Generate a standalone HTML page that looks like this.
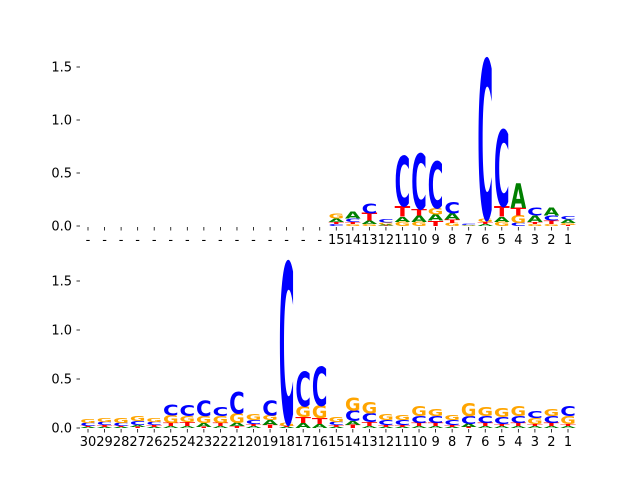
<!DOCTYPE html>
<html><head><meta charset="utf-8"><style>
body{margin:0;background:#fff}
svg{display:block;font-family:"DejaVu Sans","Liberation Sans",sans-serif}
</style></head><body>
<svg id="chart" width="640" height="480" viewBox="0 0 640 480"></svg>
<script>
const letters = ['A','C','G','T'];
const colors = {A:'#008000',C:'#0000ff',G:'#ffa500',T:'#ff0000'};
const topLabels = ['-','-','-','-','-','-','-','-','-','-','-','-','-','-','-','15','14','13','12','11','10','9','8','7','6','5','4','3','2','1'];
const bottomLabels = ['30','29','28','27','26','25','24','23','22','21','20','19','18','17','16','15','14','13','12','11','10','9','8','7','6','5','4','3','2','1'];
const yTicks = [0,0.5,1.0,1.5];
const yTickLabels = ['0.0','0.5','1.0','1.5'];
// heights per column, order [A,C,G,T]
const topA = [0,0,0,0,0,0,0,0,0,0,0,0,0,0,0,0.03,0.066,0.03,0.01,0.05,0.06,0.06,0.06,0.005,0.02,0.05,0.23,0.06,0.07,0.03];
const topC = [0,0,0,0,0,0,0,0,0,0,0,0,0,0,0,0.02,0.03,0.09,0.03,0.47,0.52,0.44,0.11,0.01,1.50,0.72,0.03,0.07,0.05,0.03];
const topG = [0,0,0,0,0,0,0,0,0,0,0,0,0,0,0,0.05,0.02,0.02,0.02,0.04,0.04,0.06,0.03,0.003,0.03,0.04,0.07,0.02,0.02,0.02];
const topT = [0,0,0,0,0,0,0,0,0,0,0,0,0,0,0,0.02,0.02,0.07,0.005,0.10,0.06,0.05,0.03,0.002,0.02,0.10,0.07,0.02,0.03,0.01];
const botA = [0.01,0.01,0.01,0.02,0.01,0.02,0.02,0.04,0.02,0.03,0.02,0.05,0.01,0.05,0.04,0.01,0.04,0.02,0.01,0.01,0.02,0.02,0.01,0.03,0.02,0.02,0.02,0.02,0.02,0.02];
const botC = [0.03,0.03,0.03,0.04,0.03,0.11,0.11,0.16,0.09,0.22,0.04,0.15,1.64,0.35,0.40,0.03,0.11,0.09,0.05,0.05,0.07,0.07,0.05,0.08,0.07,0.07,0.07,0.07,0.07,0.10];
const botG = [0.04,0.04,0.05,0.05,0.04,0.08,0.06,0.07,0.07,0.10,0.06,0.05,0.03,0.11,0.13,0.05,0.13,0.12,0.06,0.05,0.10,0.07,0.05,0.13,0.09,0.09,0.10,0.06,0.07,0.08];
const botT = [0.01,0.02,0.01,0.01,0.02,0.03,0.04,0.01,0.03,0.02,0.02,0.03,0.01,0.06,0.06,0.02,0.03,0.04,0.02,0.02,0.03,0.03,0.02,0.01,0.03,0.02,0.03,0.02,0.03,0.02];

const NS='http://www.w3.org/2000/svg';
const svg=document.getElementById('chart');
function el(tag,attrs,parent){const e=document.createElementNS(NS,tag);for(const k in attrs)e.setAttribute(k,attrs[k]);(parent||svg).appendChild(e);return e;}

function panel(name,y0,yPerUnit,labels,A,C,G,T){
  const g=el('g',{});
  
  
  const xScale=i=>88+i*(480/29);
  const yScale=v=>y0-v*yPerUnit;
  yTicks.forEach((v,k)=>{
    const y=yScale(v);
    const tk=el('line',{x1:76.5,x2:80,y1:y,y2:y,stroke:'#000','stroke-width':0.8},g);
    
    
    const t=el('text',{x:72,y:y+4.5,'font-size':13,'text-anchor':'end',fill:'#000'},g);
    t.textContent=yTickLabels[k];
    
    
  });
  labels.forEach((lab,i)=>{
    const x=xScale(i);
    const tk=el('line',{x1:x,x2:x,y1:y0+1,y2:y0+4.5,stroke:'#000','stroke-width':0.8},g);
    
    
    const t=el('text',{x:x,y:y0+18,'font-size':13,'text-anchor':'middle',fill:'#000'},g);
    t.textContent=lab;
    
    
  });
  const w=15.6;
  labels.forEach((lab,i)=>{
    const vals=[['A',A[i]],['C',C[i]],['G',G[i]],['T',T[i]]].filter(d=>d[1]>0).sort((a,b)=>a[1]-b[1]);
    let base=0;
    vals.forEach(([L,h])=>{
      const yb=yScale(base), ht=h*yPerUnit;
      base+=h;
      if(ht<0.3)return;
      const sy=ht/73;
      const t=el('text',{x:0,y:0,'font-size':100,'font-weight':'bold',fill:colors[L],
        textLength:w/1, lengthAdjust:'spacingAndGlyphs',
        transform:`translate(${xScale(i)-w/2},${yb}) scale(1,${sy})`},g);
      t.setAttribute('textLength',w);
      t.textContent=L;
      
      
    });
  });
}
panel('top-logo-panel',226,106,topLabels,topA,topC,topG,topT);
panel('bottom-logo-panel',428,98,bottomLabels,botA,botC,botG,botT);
</script>
</body></html>
